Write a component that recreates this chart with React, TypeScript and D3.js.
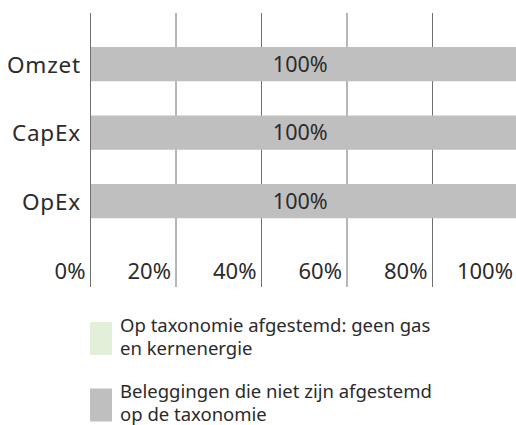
import React from "react";
import * as d3 from "d3";

const categories = ["Omzet", "CapEx", "OpEx"];
const alignedValues = [0, 0, 0];
const notAlignedValues = [100, 100, 100];
const xTicks = [0, 20, 40, 60, 80, 100];
const legendItems = [
  { lines: ["Op taxonomie afgestemd: geen gas", "en kernenergie"], color: "#e2f0d9" },
  { lines: ["Beleggingen die niet zijn afgestemd", "op de taxonomie"], color: "#bfbfbf" },
];

const W = 516;
const H = 425;
const FONT = "'Noto Sans', sans-serif";

export default function App() {
  const x = d3.scaleLinear().domain([0, 100]).range([90.5, 518]);
  const band = d3.scaleBand().domain(categories).range([12.75, 252.5]).padding(0.5);
  return (
    <div style={{ position: "absolute", left: 0, top: 0 }}>
      <svg width={W} height={H} style={{ display: "block" }} fontFamily={FONT}>
        <rect width={W} height={H} fill="#fff" />
        {xTicks.map((t) => (
          <line key={t} x1={x(t)} x2={x(t)} y1={13} y2={287} stroke="#6f6f6f" strokeWidth={1} />
        ))}
        {categories.map((c, i) => (
          <g key={c}>
            <rect x={x(0) + 0.5} y={band(c)!} width={x(alignedValues[i]) - x(0)} height={band.bandwidth()} fill={legendItems[0].color} />
            <rect
              x={x(alignedValues[i]) + 0.5}
              y={band(c)!}
              width={x(alignedValues[i] + notAlignedValues[i]) - x(alignedValues[i])}
              height={band.bandwidth()}
              fill={legendItems[1].color}
            />
            <text x={(x(0) + x(100)) / 2 - 4} y={band(c)! + band.bandwidth() / 2} dy="0.36em" textAnchor="middle" fontSize={21.5} fill="#2b2b2b">
              {notAlignedValues[i]}%
            </text>
            <text x={81} y={band(c)! + band.bandwidth() / 2 + 0.5} dy="0.36em" textAnchor="end" fontSize={22.5} letterSpacing={0.8} fill="#2b2b2b">
              {c}
            </text>
          </g>
        ))}
        {xTicks.map((t) => (
          <text key={t} x={x(t) - 5} y={271} dy="0.36em" textAnchor="end" fontSize={22} fill="#2b2b2b">
            {t}%
          </text>
        ))}
        {legendItems.map((item, i) => (
          <g key={i} transform={`translate(0, ${i * 66.5})`}>
            <rect x={90} y={322} width={22} height={33} fill={item.color} />
            {item.lines.map((l, j) => (
              <text key={j} x={120} y={331.5 + j * 23} fontSize={18.5} fill="#2b2b2b">
                {l}
              </text>
            ))}
          </g>
        ))}
      </svg>
    </div>
  );
}
